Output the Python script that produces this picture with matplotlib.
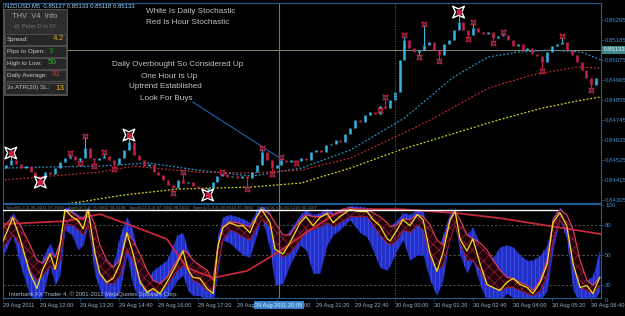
import numpy as np
import matplotlib
matplotlib.use('Agg')
import matplotlib.pyplot as plt
from matplotlib.path import Path
from matplotlib.patches import Rectangle

plt.rcParams['font.family'] = ['Liberation Sans', 'DejaVu Sans']
plt.rcParams['hatch.linewidth'] = 0.35

W, H = 625, 316

# NZDUSD M5 closes (one value per 10 min)
close = [0.84481, 0.84498, 0.84525, 0.84503, 0.84481, 0.84492, 0.84459, 0.84437, 0.84426, 0.84459,
         0.84448, 0.84481, 0.84514, 0.84536, 0.84547, 0.84525, 0.84536, 0.84591, 0.84536, 0.84525,
         0.84536, 0.84547, 0.84525, 0.84503, 0.84536, 0.84580, 0.84624, 0.84553, 0.84525, 0.84492,
         0.84503, 0.84459, 0.84443, 0.84415, 0.84388, 0.84371, 0.84415, 0.84399, 0.84404, 0.84382,
         0.84371, 0.84360, 0.84371, 0.84404, 0.84437, 0.84448, 0.84432, 0.84437, 0.84426, 0.84437,
         0.84426, 0.84459, 0.84498, 0.84569, 0.84525, 0.84481, 0.84498, 0.84525, 0.84514, 0.84525,
         0.84520, 0.84536, 0.84525, 0.84569, 0.84580, 0.84569, 0.84608, 0.84613, 0.84635, 0.84624,
         0.84668, 0.84701, 0.84745, 0.84734, 0.84773, 0.84789, 0.84778, 0.84822, 0.84811, 0.84855,
         0.84899, 0.85075, 0.85185, 0.85141, 0.85119, 0.85130, 0.85158, 0.85174, 0.85130, 0.85103,
         0.85163, 0.85185, 0.85240, 0.85284, 0.85240, 0.85213, 0.85251, 0.85229, 0.85218, 0.85229,
         0.85196, 0.85207, 0.85213, 0.85185, 0.85152, 0.85163, 0.85130, 0.85141, 0.85108, 0.85097,
         0.85064, 0.85119, 0.85152, 0.85163, 0.85174, 0.85130, 0.85103, 0.85064, 0.85020, 0.84976,
         0.84938, 0.84976]

frac_bar = [14, 16, 17, 19, 21, 23, 35, 37, 45, 50, 53, 55, 57, 60, 77, 78, 82, 85, 86, 89,
            95, 96, 100, 102, 110, 114, 120]
frac_price = [0.84564, 0.84509, 0.84657, 0.84492, 0.84569, 0.84476, 0.84344, 0.84459, 0.84459, 0.84366,
              0.84591, 0.84448, 0.84542, 0.84509, 0.84800, 0.84872, 0.85213, 0.85092, 0.85273, 0.85070,
              0.85191, 0.85284, 0.85169, 0.85229, 0.85015, 0.85207, 0.84910]
big_bar = [2, 8, 26, 42, 93]
big_price = [0.84564, 0.84404, 0.84663, 0.84333, 0.85339]

ma_fast_bar = [0, 10, 20, 30, 40, 51, 61, 71, 82, 92, 99, 105, 112, 118, 122]
ma_fast = [0.84481, 0.84487, 0.84492, 0.84509, 0.84470, 0.84437, 0.84481, 0.84580, 0.84756, 0.84982,
           0.85092, 0.85119, 0.85130, 0.85119, 0.85075]
ma_mid_bar = [0, 10, 20, 27, 35, 40, 51, 61, 71, 81, 88, 99, 108, 117, 122]
ma_mid = [0.84415, 0.84437, 0.84459, 0.84492, 0.84470, 0.84459, 0.84454, 0.84470, 0.84536, 0.84663,
          0.84756, 0.84921, 0.84993, 0.85037, 0.85031]
ma_slow_bar = [9, 16, 25, 36, 51, 61, 71, 81, 91, 101, 110, 118, 122]
ma_slow = [0.84272, 0.84294, 0.84333, 0.84366, 0.84377, 0.84399, 0.84481, 0.84580, 0.84663, 0.84745,
           0.84811, 0.84855, 0.84872]

bid = 0.85133
price_ticks = [0.85295, 0.85185, 0.85075, 0.84965, 0.84855, 0.84745, 0.84635, 0.84525, 0.84415, 0.84305]
time_labels = ["29 Aug 2011", "29 Aug 12:00", "29 Aug 13:20", "29 Aug 14:40", "29 Aug 16:00",
               "29 Aug 17:20", "29 Aug 18:40", "29 Aug 20:00", "29 Aug 21:20", "29 Aug 22:40",
               "30 Aug 00:00", "30 Aug 01:20", "30 Aug 02:40", "30 Aug 04:00", "30 Aug 05:20",
               "30 Aug 06:40"]

notes = [("White Is Daily Stochastic", 38.6, 0.85345),
         ("Red Is Hour Stochastic", 38.0, 0.85284),
         ("Daily Overbought So Considered Up", 36.0, 0.85053),
         ("One Hour Is Up", 34.1, 0.84987),
         ("Uptrend Established", 33.5, 0.84932),
         ("Look For Buys", 33.5, 0.84866)]
note_bar = [39.0, 56.7]
note_price = [0.84844, 0.84536]

# stochastic sub window
stoch_bar = [0, 2.4, 3.9, 5.9, 7.3, 8.5, 10.0, 11.0, 12.0, 13.0,
             14.4, 15.7, 16.7, 17.7, 19.1, 20.1, 21.5, 22.8, 24.2, 25.6,
             26.8, 28.3, 29.7, 30.9, 32.3, 33.7, 35.8, 37.0, 38.0, 39.0,
             40.4, 41.9, 43.1, 44.1, 45.1, 46.5, 48.0, 49.2, 50.6, 52.0,
             53.0, 54.7, 55.7, 57.3, 58.7, 60.8, 62.0, 63.4, 64.8, 66.3,
             67.5, 68.9, 70.9, 73.0, 74.4, 75.6, 77.0, 78.5, 79.1, 80.5,
             81.7, 83.1, 84.6, 85.8, 87.2, 88.6, 89.8, 91.3, 92.3, 93.3,
             94.7, 95.9, 97.4, 98.8, 100.0, 101.4, 102.8, 104.1, 105.5, 106.9,
             108.1, 109.6, 111.0, 112.2, 113.6, 115.0, 116.3, 117.7, 119.1, 120.3,
             121.7]
stoch_main = [59, 87, 66, 32, 17, 36, 51, 36, 59, 95,
              88, 84, 76, 95, 52, 32, 23, 27, 42, 72,
              52, 23, 13, 17, 12, 23, 42, 54, 36, 28,
              27, 17, 12, 59, 77, 82, 79, 79, 72, 88,
              95, 82, 56, 51, 62, 82, 88, 79, 87, 91,
              82, 88, 95, 93, 93, 85, 79, 66, 64, 75,
              85, 79, 90, 85, 52, 34, 52, 85, 93, 66,
              54, 66, 41, 21, 18, 15, 23, 27, 21, 18,
              12, 23, 41, 82, 92, 79, 41, 18, 20, 12,
              28]
blue_lo = [45, 70, 40, 10, 5, 10, 40, 20, 30, 75,
           70, 55, 60, 80, 30, 15, 5, 5, 15, 50,
           20, 5, 3, 5, 2, 8, 25, 30, 15, 10,
           10, 5, 2, 35, 65, 62, 55, 50, 48, 70,
           88, 55, 20, 22, 40, 60, 55, 32, 32, 60,
           70, 75, 85, 72, 68, 55, 38, 35, 40, 55,
           65, 45, 50, 50, 25, 10, 25, 70, 82, 50,
           32, 45, 20, 5, 2, 5, 12, 8, 5, 5,
           2, 5, 15, 55, 85, 65, 15, 2, 2, 2,
           15]
blue_hi = [72, 92, 80, 50, 30, 48, 62, 50, 68, 98,
           95, 90, 88, 98, 70, 48, 35, 40, 70, 88,
           75, 40, 25, 35, 40, 45, 70, 72, 55, 45,
           40, 25, 20, 70, 88, 90, 88, 86, 82, 95,
           99, 92, 70, 65, 75, 90, 95, 90, 92, 96,
           92, 95, 99, 98, 97, 92, 88, 80, 78, 85,
           92, 90, 95, 93, 70, 55, 70, 92, 97, 80,
           70, 78, 60, 45, 48, 58, 60, 58, 50, 45,
           45, 50, 60, 88, 97, 90, 60, 35, 25, 30,
           56]
red_lo = [55, 70, 60, 35, 25, 30, 40, 35, 45, 80,
          80, 75, 70, 80, 50, 30, 22, 22, 30, 55,
          45, 25, 15, 15, 12, 20, 35, 40, 35, 25,
          22, 15, 12, 40, 65, 75, 72, 68, 65, 78,
          85, 78, 55, 48, 52, 65, 75, 75, 78, 82,
          78, 82, 88, 88, 88, 80, 70, 62, 60, 65,
          75, 72, 80, 75, 48, 35, 40, 65, 80, 62,
          45, 45, 35, 20, 18, 15, 18, 18, 15, 12,
          10, 15, 30, 65, 85, 75, 40, 18, 15, 12,
          20]
red_hi = [75, 88, 80, 60, 45, 42, 52, 48, 62, 95,
          92, 88, 85, 95, 80, 60, 45, 38, 45, 72,
          65, 50, 35, 25, 22, 28, 45, 55, 52, 45,
          40, 35, 25, 60, 78, 83, 82, 80, 78, 88,
          96, 90, 82, 70, 70, 85, 90, 88, 88, 92,
          90, 92, 97, 95, 94, 92, 88, 82, 78, 80,
          86, 85, 90, 88, 80, 65, 60, 86, 93, 85,
          70, 66, 62, 55, 45, 35, 28, 27, 23, 20,
          15, 25, 45, 85, 95, 90, 75, 45, 25, 20,
          28]
slow_bar = [0, 13.4, 20.1, 26.8, 33.7, 37.8, 43.1, 50.0, 56.1, 63.4, 69.5, 81.1, 92.7, 101.4, 111.6, 121.9]
slow_val = [80.6, 83.6, 90.5, 78.7, 65.9, 37.4, 27.5, 34.4, 52.1, 76.7, 95.4, 95.4, 91.4, 86.5, 78.7, 70.8]
daily_bar = [0, 113]
daily_val = [94.5, 94.5]

UP = '#37b4e6'
DN = '#c8204e'
BORDER = '#1f5d96'


def rect(x0, y0, x1, y1):
    return [x0 / W, 1 - y1 / H, (x1 - x0) / W, (y1 - y0) / H]


fig = plt.figure(figsize=(6.25, 3.16), dpi=100, facecolor='black')
ax = fig.add_axes(rect(3, 3, 601, 203))
ax2 = fig.add_axes(rect(3, 204, 601, 298), sharex=ax)
for a in (ax, ax2):
    a.set_facecolor('black')
    for s in a.spines.values():
        s.set_color(BORDER)
        s.set_linewidth(0.8)

# ---- price window
c = np.array(close)
o = np.r_[c[0], c[:-1]]
bars = np.arange(len(c))
up = c >= o
lo = np.minimum(o, c) - 0.00002
hi = np.maximum(o, c) + 0.00002
ax.vlines(bars[up], lo[up], hi[up], color=UP, lw=1.8, zorder=3)
ax.vlines(bars[~up], lo[~up], hi[~up], color=DN, lw=1.8, zorder=3)

fb = np.array(frac_bar + big_bar)
fp = np.array(frac_price + big_price)
ax.vlines(fb, c[fb], fp, color=np.where(up[fb], UP, DN), lw=0.8, zorder=3)

ax.plot(ma_fast_bar, ma_fast, color='#2a95cc', ls=(0, (1.5, 1.5)), lw=0.9, zorder=2)
ax.plot(ma_mid_bar, ma_mid, color='#c0282c', ls=(0, (1.5, 1.5)), lw=0.9, zorder=2)
ax.plot(ma_slow_bar, ma_slow, color='#d8d820', ls=(0, (1.5, 1.5)), lw=0.9, zorder=2)
ax.axhline(bid, color='#8c8a64', lw=0.7, zorder=1)

star = Path([(-1, -1), (0, -0.55), (1, -1), (0.55, 0), (1, 1), (0, 0.55), (-1, 1), (-0.55, 0), (-1, -1)],
            [Path.MOVETO] + [Path.LINETO] * 7 + [Path.CLOSEPOLY])
ax.scatter(frac_bar, frac_price, marker=star, s=14, facecolor='#1a2a32', edgecolor='#c8203c',
           lw=0.7, zorder=5)
ax.scatter(big_bar, big_price, marker=star, s=70, facecolor='none', edgecolor='white', lw=1.0, zorder=5)
ax.scatter(big_bar, big_price, marker='s', s=7, color='#c8203c', zorder=6)

for txt, b, p in notes:
    ax.text(b, p, txt, color='#c4c4c4', fontsize=5.9, ha='center', va='center', zorder=6)
ax.plot(note_bar, note_price, color='#1e6ec8', lw=0.7, zorder=4)

ax.set_xlim(0.41, 121.95)
ax.set_ylim(0.84289, 0.85389)
ax.yaxis.tick_right()
ax.set_yticks(price_ticks)
ax.set_yticklabels([f'{p:.5f}' for p in price_ticks])
ax.tick_params(axis='y', colors=BORDER, labelcolor='#3f8fd0', labelsize=4.3, length=2, width=0.5, pad=1)
ax.tick_params(axis='x', bottom=False, labelbottom=False)
ax.text(1.005, bid, f'{bid:.5f}', transform=ax.get_yaxis_transform(), fontsize=4.3, color='#e8f0f0',
        va='center', ha='left', clip_on=False, zorder=7,
        bbox=dict(boxstyle='square,pad=0.25', fc='#3f8a8c', ec='none'))

# ---- stochastic window
ax2.fill_between(stoch_bar, blue_lo, blue_hi, color='#2230c8', lw=0, zorder=1)
ax2.fill_between(stoch_bar, blue_lo, blue_hi, facecolor='none', edgecolor='#5564ff', hatch='||||',
                 lw=0, zorder=1.5)
ax2.fill_between(stoch_bar, red_lo, red_hi, color='#22030c', lw=0, zorder=2)
ax2.fill_between(stoch_bar, red_lo, red_hi, facecolor='none', edgecolor='#c82848', hatch='xxx',
                 lw=0, zorder=2.5)
ax2.plot(stoch_bar, red_lo, color='#b01e3c', lw=0.6, zorder=3)
ax2.plot(stoch_bar, red_hi, color='#e0405a', lw=0.8, zorder=3)
ax2.plot(slow_bar, slow_val, color='#c8283c', lw=1.3, zorder=4)
ax2.plot(stoch_bar, stoch_main, color='#f0e020', lw=0.9, zorder=5)
ax2.plot(daily_bar, daily_val, color='white', lw=1.0, zorder=5)
for lvl in (20, 50, 80):
    ax2.axhline(lvl, color='#7a7a7a', ls=(0, (3, 3)), lw=0.5, zorder=0.5)
ax2.text(0.005, 0.955, "Stoch(5,3,3) 96.9231 97.3650   Stoch(8,3,3) 95.8962 96.4108   Stoch(13,3,3) 97.7082 "
         "98.1023   Stoch(21,3,3) 98.8614 97.9882   Stoch(34,3,3) 96.5216 95.3107",
         transform=ax2.transAxes, fontsize=3.2, color='#7d7d7d', va='center', zorder=6)
ax2.text(0.01, 0.04, "Interbank FX Trader 4, © 2001-2011 MetaQuotes Software Corp.",
         transform=ax2.transAxes, fontsize=4.2, color='#a8bccc', va='center', zorder=6)
ax2.set_ylim(7.6, 100.5)
ax2.yaxis.tick_right()
ax2.set_yticks([20, 50, 80, 100])
ax2.tick_params(axis='y', colors=BORDER, labelcolor='#3f8fd0', labelsize=4.3, length=2, width=0.5, pad=1)
tick_bars = [0.41] + list(range(8, 121, 8))
ax2.set_xticks(tick_bars)
ax2.set_xticklabels(time_labels)
ax2.tick_params(axis='x', colors=BORDER, labelcolor='#9ab4cc', labelsize=4.1, length=2, width=0.5, pad=1.5)
for lbl in ax2.get_xticklabels():
    lbl.set_ha('left')
ax2.text(56.5, -0.075, "29 Aug 2011 20:05", transform=ax2.get_xaxis_transform(), fontsize=4.1,
         color='#d8ecff', ha='center', va='center', clip_on=False, zorder=8,
         bbox=dict(boxstyle='square,pad=0.3', fc='#3a84cc', ec='none'))
ax2.text(1.007, -0.03, "0", transform=ax2.transAxes, fontsize=4.3, color='#3f8fd0', va='center',
         clip_on=False)

for a in (ax, ax2):
    a.axvline(56.5, color='#2a86c6', lw=0.8, zorder=4)
    a.axvline(80, color='#2a6464', ls=(0, (1, 1.2)), lw=0.8, zorder=4)

# ---- overlay: header and info panel
ov = fig.add_axes([0, 0, 1, 1])
ov.set_xlim(0, W)
ov.set_ylim(H, 0)
ov.axis('off')
ov.patch.set_alpha(0)
ov.text(5, 5.5, "NZDUSD,M5  0.85127 0.85133 0.85118 0.85133", fontsize=4.3, color='#a6d4f2', va='center')
ov.add_patch(Rectangle((4, 9), 63, 86, fc='#2e2e2e', ec='#5a5a5a', lw=0.6))
ov.text(35, 17, "THV  V4  Info", fontsize=5.4, color='#a8a8a8', ha='center', va='center')
ov.text(35, 25.5, "@ Peter D in FF", fontsize=4.2, color='#6e6e6e', ha='center', va='center')
rows = [("Spread:", "4.2", '#e8a21e', 53), ("Pips to Open:", "3", '#1e9e1e', 49),
        ("High to Low:", "50", '#22b322', 48), ("Daily Average:", "91", '#e02b2b', 52),
        ("3x ATR(20) SL:", "13", '#f0b020', 55)]
row_y = [39, 51.5, 63, 75, 88]
for (lab, val, col, vx), yy in zip(rows, row_y):
    ov.add_patch(Rectangle((5, yy - 5.5), 61, 11, fc='#262626', ec='#5a5a5a', lw=0.5))
    ov.text(7, yy, lab, fontsize=4.5, color='#c8c8c8', va='center')
    ov.text(vx, yy, val, fontsize=5.8, color=col, va='center')

fig.savefig('out.png', dpi=100, facecolor='black')
